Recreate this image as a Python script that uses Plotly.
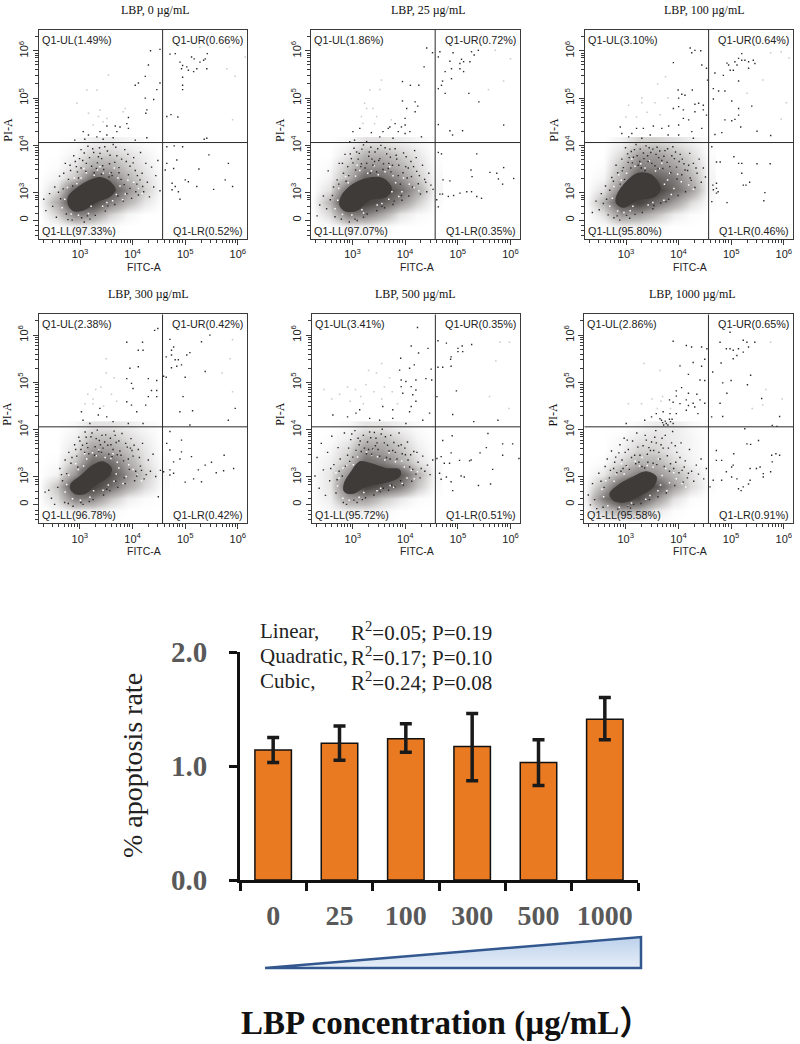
import plotly.graph_objects as go

W = 800
H = 1044

# bar chart
doses = ['0', '25', '100', '300', '500', '1000']
apoptosis = [1.14, 1.20, 1.24, 1.17, 1.03, 1.41]
err_up = [0.11, 0.15, 0.13, 0.29, 0.20, 0.19]
err_down = [0.11, 0.15, 0.12, 0.30, 0.20, 0.18]

# flow panels
panel_titles = ['LBP, 0 µg/mL', 'LBP, 25 µg/mL', 'LBP, 100 µg/mL',
                'LBP, 300 µg/mL', 'LBP, 500 µg/mL', 'LBP, 1000 µg/mL']
ul_pct = ['1.49', '1.86', '3.10', '2.38', '3.41', '2.86']
ur_pct = ['0.66', '0.72', '0.64', '0.42', '0.35', '0.65']
ll_pct = ['97.33', '97.07', '95.80', '96.78', '95.72', '95.58']
lr_pct = ['0.52', '0.35', '0.46', '0.42', '0.51', '0.91']

# dense cell cloud, read as outline (log10 FITC, log10 PI)
core_1 = [(2.78, 2.92), (2.90, 3.06), (3.13, 3.23), (3.38, 3.32), (3.57, 3.23), (3.67, 3.06), (3.57, 2.92), (3.32, 2.81), (3.06, 2.63), (2.87, 2.62), (2.78, 2.74)]
core_2 = [(2.79, 2.92), (2.95, 3.13), (3.27, 3.30), (3.58, 3.30), (3.74, 3.09), (3.65, 2.92), (3.33, 2.85), (3.08, 2.62), (2.85, 2.62), (2.76, 2.74)]
core_3 = [(2.82, 2.92), (2.98, 3.20), (3.23, 3.41), (3.49, 3.37), (3.65, 3.09), (3.55, 2.92), (3.23, 2.85), (2.95, 2.69), (2.82, 2.77)]
core_4 = [(2.84, 2.87), (3.00, 3.01), (3.25, 3.25), (3.44, 3.32), (3.60, 3.18), (3.54, 3.01), (3.29, 2.83), (3.10, 2.65), (2.90, 2.65), (2.82, 2.76)]
core_5 = [(2.84, 2.87), (2.97, 3.11), (3.13, 3.32), (3.32, 3.29), (3.63, 3.18), (3.89, 3.15), (3.89, 3.01), (3.57, 2.87), (3.25, 2.80), (3.00, 2.65), (2.84, 2.69)]
core_6 = [(2.70, 2.65), (2.85, 2.82), (3.14, 3.00), (3.39, 3.11), (3.58, 3.00), (3.52, 2.79), (3.27, 2.61), (2.98, 2.47), (2.76, 2.51)]

# how crowded the lower-left gate looks, 0 (empty) to 10 (solid), bottom row first
density_x = [2.25, 2.58, 2.91, 3.24, 3.57, 3.90, 4.23, 4.55]
density_y = [2.05, 2.30, 2.55, 2.80, 3.05, 3.30, 3.55, 3.80, 4.05]
density_1 = [[0, 0, 0, 0, 0, 0, 0, 0],
             [0, 0.1, 0.5, 0.4, 0.1, 0, 0, 0],
             [0, 1.5, 5, 4, 1.5, 0.3, 0, 0],
             [0.2, 3, 9, 9, 5, 2.5, 0.8, 0],
             [0.1, 1.2, 7, 10, 8, 4, 1.5, 0.1],
             [0, 0.4, 2, 6, 5, 2.5, 1, 0.1],
             [0, 0.1, 1, 3, 3, 1.6, 0.7, 0],
             [0, 0, 0.4, 1.6, 1.6, 1, 0.4, 0],
             [0, 0, 0.1, 0.5, 0.6, 0.3, 0.1, 0]]
density_2 = [[0, 0, 0, 0, 0, 0, 0, 0],
             [0, 0.1, 0.5, 0.5, 0.2, 0, 0, 0],
             [0, 1.2, 5, 5, 3, 0.8, 0.2, 0],
             [0.1, 2.5, 9, 9, 7, 4, 1.6, 0.1],
             [0, 1, 6, 10, 9, 6, 3, 0.3],
             [0, 0.4, 2.5, 6.5, 6, 4, 1.8, 0.2],
             [0, 0.2, 1.8, 4, 4, 2.6, 1.2, 0.1],
             [0, 0, 0.8, 2.6, 2.6, 1.6, 0.8, 0],
             [0, 0, 0.2, 0.9, 0.9, 0.6, 0.3, 0]]
density_3 = [[0, 0, 0, 0, 0, 0, 0, 0],
             [0, 0.1, 0.5, 0.5, 0.2, 0, 0, 0],
             [0, 1, 4, 3.5, 2, 0.6, 0.1, 0],
             [0.1, 2.5, 8, 9, 6, 3.5, 1.2, 0.1],
             [0, 1, 5, 10, 9, 6, 3.5, 0.3],
             [0, 0.3, 3, 7, 7, 5, 2.6, 0.3],
             [0, 0.1, 2.2, 5, 4.5, 3.5, 1.8, 0.2],
             [0, 0, 1.2, 3.5, 3.6, 2.2, 1.2, 0.1],
             [0, 0, 0.4, 1.4, 1.4, 1, 0.5, 0]]
density_4 = [[0, 0, 0, 0, 0, 0, 0, 0],
             [0, 0.2, 0.6, 0.5, 0.2, 0, 0, 0],
             [0.1, 1.2, 5, 4.5, 2, 0.5, 0.1, 0],
             [0.1, 2, 8, 9, 6, 3, 1.2, 0.1],
             [0, 0.4, 4, 10, 8, 4, 1.6, 0.2],
             [0, 0.1, 2, 6, 6, 3, 1, 0.1],
             [0, 0, 1, 4, 3.5, 2, 0.8, 0],
             [0, 0, 0.5, 2.2, 2.2, 1.2, 0.5, 0],
             [0, 0, 0.2, 0.9, 0.9, 0.6, 0.2, 0]]
density_5 = [[0, 0, 0, 0, 0, 0, 0, 0],
             [0, 0.2, 0.6, 0.6, 0.3, 0, 0, 0],
             [0.1, 0.6, 3.5, 3.5, 1.8, 0.7, 0.1, 0],
             [0.1, 0.8, 6, 9, 7, 5, 1.8, 0.1],
             [0.1, 0.8, 4, 10, 9, 7, 2.6, 0.2],
             [0.1, 0.5, 2, 6, 5, 3, 1, 0.1],
             [0, 0.3, 1.3, 4, 3.5, 2, 0.6, 0],
             [0, 0.1, 0.6, 2.2, 2.2, 1.2, 0.3, 0],
             [0, 0, 0.2, 0.8, 0.8, 0.4, 0.1, 0]]
density_6 = [[0, 0, 0, 0, 0, 0, 0, 0],
             [0.2, 1.6, 3, 2.5, 0.8, 0.1, 0, 0],
             [0.4, 5, 9, 8, 4, 1, 0.1, 0],
             [0.2, 2.5, 7, 10, 7.5, 3.5, 1.2, 0.1],
             [0, 0.7, 3, 5, 4, 2.5, 1, 0.1],
             [0, 0.1, 1.3, 2.5, 2.5, 1.2, 0.4, 0],
             [0, 0, 0.4, 1.5, 1.5, 0.7, 0.3, 0],
             [0, 0, 0.2, 0.8, 1, 0.6, 0.3, 0],
             [0, 0, 0, 0.2, 0.6, 0.6, 0.2, 0]]

# gaps of paper showing through the crowded part of the cloud
gaps_1 = [(3.02, 3.31), (3.44, 3.41), (2.71, 2.86), (3.76, 3.14), (3.21, 2.71), (3.62, 2.83), (2.94, 3.19), (3.86, 2.97), (3.33, 3.48), (2.83, 2.55), (3.57, 3.41), (4.02, 3.22), (3.12, 3.42), (3.72, 3.31), (2.66, 2.68), (3.43, 2.71), (3.91, 3.26), (3.27, 3.37), (2.89, 3.31), (3.65, 3.52), (3.16, 2.56), (4.11, 3.09), (3.51, 2.79), (2.76, 3.11), (3.81, 2.85), (3.38, 3.55), (2.97, 2.52), (3.69, 2.96), (4.18, 2.98), (3.07, 3.51)]
gaps_2 = [(3.06, 3.35), (3.49, 3.38), (2.72, 2.84), (3.82, 3.21), (3.18, 2.64), (3.69, 2.86), (2.92, 3.21), (3.94, 3.02), (3.36, 3.46), (2.81, 2.54), (3.62, 3.44), (4.08, 3.18), (3.14, 3.47), (3.77, 3.36), (2.67, 2.66), (3.47, 2.74), (3.97, 3.31), (3.29, 3.41), (2.87, 3.34), (3.71, 3.55), (3.21, 2.57), (4.17, 3.11), (3.56, 2.77), (2.74, 3.09), (3.88, 2.92), (3.41, 3.57), (2.99, 2.53), (3.75, 3.02), (4.26, 3.04), (3.09, 3.58)]
gaps_3 = [(3.01, 3.41), (3.56, 3.46), (2.74, 2.88), (3.79, 3.27), (3.13, 2.71), (3.72, 2.84), (2.91, 3.26), (3.91, 3.09), (3.36, 3.52), (2.84, 2.61), (3.63, 3.51), (4.05, 3.23), (3.17, 3.56), (3.83, 3.41), (2.69, 2.71), (3.42, 2.74), (3.98, 3.39), (3.28, 3.61), (2.86, 3.38), (3.68, 3.62), (3.08, 2.62), (4.19, 3.16), (3.51, 2.79), (2.77, 3.13), (3.86, 2.96), (3.44, 3.67), (2.96, 2.58), (3.73, 3.18), (4.28, 3.07), (3.11, 3.71)]
gaps_4 = [(3.07, 3.23), (3.48, 3.41), (2.75, 2.84), (3.74, 3.19), (3.26, 2.71), (3.65, 2.91), (2.97, 3.16), (3.88, 3.01), (3.31, 3.45), (2.86, 2.54), (3.59, 3.39), (4.01, 3.16), (3.13, 3.38), (3.71, 3.31), (2.72, 2.68), (3.44, 2.72), (3.93, 3.26), (3.24, 3.51), (2.92, 3.28), (3.63, 3.49), (3.19, 2.57), (4.09, 3.04), (3.54, 2.83), (2.79, 3.04), (3.82, 2.86), (3.36, 3.57), (3.01, 2.51), (3.69, 3.06), (4.17, 2.92), (3.09, 3.49)]
gaps_5 = [(3.01, 3.26), (3.47, 3.43), (2.71, 2.81), (3.98, 3.21), (3.21, 2.67), (3.71, 2.82), (2.88, 3.24), (4.03, 2.98), (3.36, 3.47), (2.81, 2.55), (3.61, 3.36), (4.11, 3.14), (3.09, 3.42), (3.81, 3.32), (2.68, 3.09), (3.46, 2.71), (3.93, 3.34), (3.26, 3.53), (2.81, 3.19), (3.69, 3.51), (3.12, 2.57), (4.17, 2.96), (3.53, 2.76), (2.74, 2.98), (3.94, 2.86), (3.39, 3.58), (2.93, 2.51), (3.78, 2.78), (4.23, 3.11), (3.06, 3.55)]
gaps_6 = [(2.97, 3.06), (3.41, 3.24), (2.58, 2.58), (3.69, 3.03), (3.11, 2.45), (3.61, 2.71), (2.78, 2.91), (3.83, 2.88), (3.26, 3.23), (2.66, 2.39), (3.52, 3.21), (3.96, 2.96), (3.02, 3.22), (3.76, 3.18), (2.55, 2.74), (3.38, 2.53), (3.91, 3.09), (3.18, 3.33), (2.82, 3.06), (3.62, 3.38), (3.04, 2.39), (4.07, 2.86), (3.46, 2.61), (2.62, 2.92), (3.78, 2.71), (3.31, 3.41), (2.88, 2.36), (3.66, 2.83), (4.14, 2.79), (2.92, 3.28)]

# single cells (log10 FITC, log10 PI)
dots_1 = [(4.71, 5.93), (4.81, 5.94), (4.90, 5.76), (4.95, 5.69), (4.93, 5.62), (5.03, 5.66), (5.12, 5.87), (5.17, 5.83), (5.22, 5.62), (5.28, 5.76), (5.35, 5.80), (5.38, 5.83), (5.42, 5.94), (5.41, 5.62), (5.16, 5.56), (5.06, 5.59), (4.95, 5.44), (4.95, 5.27), (4.95, 5.18), (4.65, 4.61), (4.73, 4.65), (4.86, 4.60), (5.41, 4.15), (5.36, 4.13),
          (4.65, 3.97), (4.79, 3.99), (4.95, 3.97), (4.65, 3.62), (4.78, 3.51), (4.84, 3.69), (4.62, 3.48), (4.75, 3.20), (4.81, 3.13), (4.75, 3.06), (4.87, 3.02), (4.90, 2.86), (5.00, 3.27), (5.06, 3.23), (5.22, 3.13), (5.26, 3.50), (5.45, 3.80), (5.54, 3.07), (5.76, 3.27), (5.90, 3.13), (5.82, 3.62),
          (4.34, 6.00), (4.52, 6.03), (4.30, 5.70), (4.24, 5.46), (4.11, 5.32), (4.05, 5.27), (4.52, 5.32), (4.46, 5.18), (4.24, 5.00), (4.40, 4.97), (4.27, 4.75), (4.25, 4.68), (3.92, 4.59), (3.89, 4.46), (3.67, 4.41), (3.76, 4.39), (3.51, 4.41), (3.38, 4.29), (3.06, 4.29), (3.16, 4.22), (3.32, 4.18), (3.51, 4.22), (3.70, 4.29), (2.90, 4.11), (3.09, 4.13), (3.44, 4.13), (3.63, 4.16), (3.92, 4.36), (4.05, 4.11), (4.27, 4.16),
          (2.31, 2.86), (2.35, 2.62), (2.42, 2.98), (2.48, 2.71), (2.52, 3.12), (2.55, 2.48), (2.61, 3.35), (2.63, 2.87), (2.68, 3.08), (2.72, 3.62), (2.74, 2.55), (2.78, 3.28), (2.82, 3.47), (2.85, 2.42), (2.88, 3.78), (2.93, 3.55), (2.97, 3.31), (3.02, 3.91), (3.05, 3.68), (3.08, 2.38), (3.11, 3.45), (3.15, 3.98), (3.18, 3.74), (3.22, 3.56), (3.26, 3.85), (3.29, 2.52), (3.33, 3.63), (3.37, 3.95), (3.41, 3.72), (3.45, 3.49), (3.48, 2.61), (3.52, 3.88), (3.56, 3.61), (3.59, 3.42), (3.63, 4.02), (3.66, 2.75), (3.70, 3.78), (3.74, 3.53), (3.78, 3.28), (3.82, 2.82), (3.85, 3.91), (3.88, 3.66), (3.92, 3.38), (3.95, 3.09), (3.98, 2.88), (4.02, 3.74), (4.05, 3.47), (4.08, 3.18), (4.11, 2.95), (4.15, 3.85), (4.18, 3.41), (4.21, 3.02), (4.25, 3.62), (4.28, 3.22), (4.32, 2.91), (4.36, 3.54), (4.40, 3.12), (4.44, 3.36), (4.48, 3.68), (4.52, 3.04),
          (3.12, 3.62), (3.41, 3.39), (2.95, 3.44), (3.66, 3.64), (3.24, 3.93), (3.84, 3.17), (3.03, 2.47), (3.57, 3.79), (2.86, 3.14), (3.31, 3.51), (3.95, 3.56), (2.69, 3.41), (3.47, 3.97), (4.06, 3.02), (3.19, 2.44), (3.72, 2.93), (2.59, 3.01), (3.38, 3.83), (3.91, 3.81), (2.99, 3.72), (3.61, 3.36), (4.14, 3.27), (3.08, 3.84), (3.53, 2.72), (2.77, 2.43), (4.01, 3.63), (3.27, 3.42), (3.79, 3.71), (2.91, 3.66), (3.43, 3.57), (4.19, 3.13), (3.14, 2.51), (3.68, 3.96), (3.89, 2.98), (2.81, 3.58), (3.35, 3.76), (3.74, 3.42), (4.09, 3.36), (3.02, 3.52), (3.55, 3.33)]
faint_1 = [(3.13, 5.17), (3.32, 5.17), (3.38, 4.75), (3.82, 4.71), (3.51, 4.57), (3.16, 4.68), (2.94, 4.89), (3.54, 5.49), (3.35, 4.61), (3.86, 4.78), (3.44, 4.50), (3.25, 4.43), (5.79, 5.62), (5.95, 5.46), (6.14, 5.87), (5.90, 4.54), (5.28, 6.07), (5.84, 6.08)]

dots_2 = [(4.66, 5.98), (4.63, 5.87), (4.91, 5.96), (4.85, 5.78), (5.04, 5.73), (5.07, 5.82), (5.11, 5.77), (5.04, 5.62), (5.11, 5.56), (5.26, 5.98), (5.31, 5.91), (5.39, 6.01), (5.23, 5.77), (4.88, 5.62), (4.76, 5.56), (4.71, 5.36), (4.88, 5.41), (4.69, 5.27), (4.63, 5.20), (4.76, 5.10), (5.21, 5.10), (5.40, 4.92), (4.63, 4.44), (4.85, 4.31), (4.90, 4.22), (5.09, 4.31), (5.87, 4.43),
          (4.63, 3.85), (4.69, 3.82), (5.36, 3.82), (5.25, 3.48), (5.27, 3.34), (5.61, 3.43), (5.74, 3.41), (5.87, 3.53), (6.06, 3.30), (5.85, 3.18), (5.77, 3.29), (4.72, 3.27), (4.85, 3.25), (4.66, 2.97), (4.71, 2.97), (4.82, 2.92), (4.92, 2.94), (5.04, 2.99), (5.17, 3.02), (5.26, 3.02), (5.36, 2.92), (5.45, 2.88), (4.63, 2.70), (4.60, 2.85),
          (4.41, 6.06), (4.52, 5.96), (4.36, 5.66), (3.95, 5.35), (4.10, 5.27), (4.26, 5.27), (3.95, 4.94), (4.19, 4.92), (4.24, 4.83), (4.03, 4.78), (4.19, 4.71), (4.00, 4.57), (3.93, 4.39), (4.00, 4.43), (4.09, 4.29), (3.68, 4.36), (3.81, 4.46), (3.01, 4.29), (3.14, 4.36), (3.36, 4.27), (3.58, 4.29), (3.71, 4.39), (3.87, 4.29), (4.00, 4.25), (3.04, 4.11), (2.95, 4.08), (3.27, 4.08), (3.52, 4.18), (3.77, 4.15), (4.31, 4.18),
          (2.33, 2.51), (2.38, 2.74), (2.45, 2.93), (2.51, 2.66), (2.54, 3.46), (2.58, 2.85), (2.64, 3.12), (2.67, 2.49), (2.71, 3.27), (2.75, 3.62), (2.79, 2.44), (2.83, 3.41), (2.86, 3.81), (2.91, 3.55), (2.94, 2.38), (2.98, 3.72), (3.03, 3.94), (3.06, 3.48), (3.09, 2.41), (3.13, 3.83), (3.17, 3.61), (3.21, 4.01), (3.24, 3.52), (3.28, 2.55), (3.31, 3.77), (3.35, 3.96), (3.39, 3.58), (3.43, 3.86), (3.46, 2.62), (3.50, 3.68), (3.54, 4.00), (3.58, 3.49), (3.61, 2.68), (3.65, 3.82), (3.69, 3.62), (3.73, 3.44), (3.77, 2.75), (3.81, 3.93), (3.84, 3.71), (3.87, 3.36), (3.91, 3.18), (3.94, 2.84), (3.97, 3.84), (4.01, 3.55), (4.04, 3.31), (4.07, 2.93), (4.11, 3.66), (4.14, 3.12), (4.18, 3.89), (4.22, 3.45), (4.25, 3.19), (4.29, 2.97), (4.33, 3.58), (4.37, 3.28), (4.41, 3.02), (4.45, 3.41), (4.49, 3.16), (4.53, 3.07),
          (3.18, 3.92), (3.46, 3.44), (2.93, 3.36), (3.72, 3.75), (3.27, 3.62), (3.88, 3.58), (3.05, 2.44), (3.62, 3.95), (2.88, 3.24), (3.34, 3.41), (4.02, 3.76), (2.74, 3.18), (3.52, 3.72), (4.12, 3.34), (3.21, 2.48), (3.79, 2.82), (2.62, 2.94), (3.42, 3.66), (3.96, 3.42), (3.01, 3.63), (3.68, 3.51), (4.21, 3.74), (3.11, 3.71), (3.56, 2.71), (2.81, 3.62), (4.06, 3.52), (3.32, 3.86), (3.83, 3.79), (2.96, 3.82), (3.48, 3.93), (4.27, 3.36), (3.16, 3.55), (3.71, 3.92), (3.93, 2.94), (4.39, 3.22), (3.37, 3.71), (3.76, 3.58), (4.16, 3.55), (3.08, 3.86), (3.59, 3.61)]
faint_2 = [(3.33, 5.17), (3.52, 5.18), (3.23, 4.89), (3.27, 4.78), (3.39, 4.78), (3.46, 4.61), (3.20, 4.46), (3.17, 4.61), (3.42, 4.46), (3.55, 5.38), (3.74, 4.54), (5.71, 6.01), (6.00, 5.83), (5.87, 5.36), (5.58, 5.18)]

dots_3 = [(4.92, 5.74), (4.95, 5.70), (4.98, 5.59), (5.07, 5.77), (5.11, 5.70), (5.14, 5.84), (5.20, 5.94), (5.20, 5.80), (5.26, 5.80), (5.33, 5.77), (5.42, 5.80), (5.45, 5.73), (5.33, 5.63), (5.04, 5.59), (4.69, 5.53), (4.85, 5.48), (5.14, 5.36), (4.66, 5.20), (4.76, 5.15), (4.88, 5.15), (4.66, 4.98), (5.01, 4.94), (5.14, 4.78), (5.39, 4.83), (5.14, 4.64), (4.88, 4.54), (5.01, 4.52), (5.07, 4.55), (5.18, 4.39), (4.82, 4.27), (4.69, 4.23), (5.49, 4.30), (5.75, 4.21),
          (4.63, 3.97), (4.72, 3.65), (4.79, 3.65), (5.05, 3.76), (5.14, 3.62), (5.20, 3.62), (5.20, 3.41), (5.35, 3.22), (5.49, 3.61), (5.74, 3.61), (5.23, 3.16), (5.28, 3.16), (4.65, 3.16), (4.72, 3.20), (4.72, 3.09), (4.66, 3.06), (4.75, 3.02), (4.72, 2.99), (4.63, 2.81), (4.92, 2.79), (5.64, 3.00), (5.62, 2.83),
          (4.22, 6.06), (4.25, 5.96), (4.31, 6.01), (4.42, 6.00), (3.90, 5.75), (4.44, 5.70), (4.53, 5.63), (4.55, 5.38), (3.99, 5.17), (4.06, 5.08), (4.00, 5.00), (4.12, 5.06), (4.26, 5.17), (4.00, 4.82), (3.90, 4.78), (4.09, 4.75), (4.31, 4.87), (4.38, 4.89), (4.47, 4.85), (4.47, 4.75), (4.31, 4.71), (4.09, 4.57), (4.19, 4.54), (4.00, 4.43), (3.81, 4.41), (3.68, 4.36), (3.52, 4.41), (3.33, 4.36), (3.20, 4.36), (3.11, 4.25), (2.89, 4.39), (2.92, 4.25), (3.05, 4.18), (3.30, 4.15), (3.46, 4.22), (3.80, 4.22), (4.00, 4.22), (4.25, 4.29), (4.44, 4.36), (4.28, 4.15), (4.53, 4.64),
          (2.36, 2.58), (2.43, 2.82), (2.49, 2.64), (2.53, 2.98), (2.57, 2.77), (2.61, 3.14), (2.66, 2.53), (2.69, 3.05), (2.73, 3.32), (2.77, 2.47), (2.81, 3.58), (2.84, 3.42), (2.88, 2.42), (2.92, 3.71), (2.95, 3.53), (2.99, 3.95), (3.04, 3.64), (3.07, 2.46), (3.10, 3.87), (3.14, 3.75), (3.19, 4.02), (3.23, 3.58), (3.27, 3.92), (3.31, 2.58), (3.34, 3.72), (3.38, 3.99), (3.42, 3.66), (3.47, 3.85), (3.51, 2.66), (3.55, 3.57), (3.59, 3.96), (3.62, 3.74), (3.66, 2.78), (3.70, 3.51), (3.74, 3.89), (3.78, 3.64), (3.81, 2.86), (3.85, 3.42), (3.89, 3.97), (3.92, 3.72), (3.96, 3.54), (3.99, 2.94), (4.03, 3.81), (4.06, 3.38), (4.10, 3.61), (4.13, 3.02), (4.17, 3.47), (4.21, 3.83), (4.24, 3.26), (4.28, 3.62), (4.31, 3.11), (4.35, 3.41), (4.39, 3.71), (4.43, 3.22), (4.47, 3.52), (4.51, 3.33),
          (3.09, 3.52), (3.36, 3.47), (2.97, 3.28), (3.64, 3.88), (3.21, 3.78), (3.83, 3.55), (3.01, 2.52), (3.49, 3.62), (2.89, 3.18), (3.26, 3.66), (3.94, 3.86), (2.76, 3.24), (3.57, 3.81), (4.07, 3.71), (3.17, 2.54), (3.76, 2.81), (2.63, 2.86), (3.44, 3.95), (3.87, 3.78), (3.03, 3.82), (3.68, 3.68), (4.19, 3.58), (3.12, 3.63), (3.53, 2.73), (2.83, 2.51), (4.01, 3.66), (3.29, 3.52), (3.79, 3.93), (2.93, 3.46), (3.41, 3.78), (4.22, 3.31), (3.16, 3.91), (3.72, 3.77), (3.97, 3.29), (4.33, 3.52), (3.33, 3.84), (3.61, 3.51), (4.12, 3.48), (3.06, 3.74), (3.51, 3.92)]
faint_3 = [(3.60, 5.30), (3.30, 5.00), (3.30, 4.90), (3.55, 4.90), (3.20, 4.60), (3.00, 4.60), (3.40, 4.70), (3.80, 5.00), (3.65, 4.65), (3.75, 5.45), (3.05, 4.85), (5.75, 5.96), (5.95, 5.98), (6.10, 5.85), (5.60, 5.38), (5.30, 5.10), (5.95, 4.55), (6.05, 4.90)]

dots_4 = [(4.71, 5.91), (4.78, 5.75), (4.74, 5.68), (4.64, 5.54), (4.74, 5.58), (4.81, 5.48), (4.87, 5.48), (5.03, 5.58), (5.09, 5.63), (4.74, 5.31), (4.84, 5.34), (4.93, 5.37), (5.31, 5.86), (5.47, 6.00), (5.38, 5.23), (4.59, 5.13), (4.64, 5.11), (5.00, 5.11), (4.96, 4.70), (4.90, 4.38), (5.14, 4.40), (5.95, 4.45), (5.82, 4.20), (5.09, 4.10),
          (4.71, 3.96), (4.65, 3.71), (4.71, 3.57), (4.78, 3.32), (4.90, 3.38), (4.93, 3.53), (4.93, 3.78), (4.71, 3.15), (4.78, 3.08), (4.71, 3.04), (4.59, 3.11), (5.00, 2.89), (5.16, 2.96), (5.31, 2.90), (5.25, 3.15), (5.38, 3.25), (5.50, 3.31), (5.59, 3.09), (5.73, 3.13), (5.74, 3.46), (5.92, 3.18), (5.12, 3.43),
          (3.89, 5.85), (4.19, 5.85), (4.11, 5.68), (4.20, 5.68), (4.42, 6.10), (4.48, 6.14), (4.11, 5.33), (3.95, 5.30), (3.89, 5.08), (3.98, 4.98), (4.01, 4.87), (4.30, 5.08), (4.46, 5.04), (4.36, 4.83), (4.46, 4.83), (4.30, 4.70), (4.46, 4.70), (3.89, 4.59), (3.98, 4.52), (4.08, 4.38), (4.25, 4.52), (3.38, 4.45), (3.35, 4.31), (3.51, 4.27), (3.03, 4.38), (3.06, 4.20), (3.19, 4.13), (3.63, 4.17), (3.92, 4.13), (4.20, 4.13),
          (2.34, 2.68), (2.41, 2.72), (2.46, 2.55), (2.52, 2.42), (2.58, 2.78), (2.62, 3.18), (2.67, 2.92), (2.71, 2.46), (2.75, 3.07), (2.79, 3.52), (2.83, 3.29), (2.87, 2.38), (2.90, 3.68), (2.94, 3.44), (2.98, 3.84), (3.02, 3.58), (3.06, 2.42), (3.10, 3.95), (3.13, 3.71), (3.17, 3.49), (3.21, 3.85), (3.25, 2.52), (3.29, 3.64), (3.33, 3.99), (3.37, 3.77), (3.41, 3.52), (3.45, 2.62), (3.49, 3.89), (3.53, 3.67), (3.57, 2.71), (3.61, 3.43), (3.65, 3.97), (3.69, 3.73), (3.72, 2.78), (3.76, 3.55), (3.80, 3.92), (3.83, 3.34), (3.86, 2.86), (3.90, 3.63), (3.94, 3.16), (3.97, 3.81), (4.01, 3.44), (4.04, 2.92), (4.08, 3.02), (4.11, 3.58), (4.15, 3.23), (4.19, 3.71), (4.22, 2.96), (4.26, 3.05), (4.30, 3.36), (4.34, 3.12), (4.39, 3.48), (4.44, 3.01), (4.49, 2.58), (4.53, 3.14),
          (3.15, 3.62), (3.39, 3.68), (2.96, 3.21), (3.58, 3.82), (3.23, 3.93), (3.78, 3.46), (3.02, 2.46), (3.47, 3.74), (2.85, 3.41), (3.28, 3.46), (3.87, 3.71), (2.72, 3.36), (3.55, 3.48), (4.03, 3.67), (3.18, 2.48), (3.68, 2.91), (2.65, 3.05), (3.42, 3.88), (3.92, 3.38), (3.00, 3.76), (3.63, 3.58), (4.13, 3.41), (3.09, 3.52), (3.51, 2.74), (2.78, 2.44), (3.99, 3.56), (3.31, 3.81), (3.74, 3.76), (2.92, 3.58), (3.44, 3.61), (4.17, 3.14), (3.12, 3.84), (3.67, 3.88), (3.84, 2.98), (4.06, 3.12), (3.36, 3.54), (3.71, 3.47), (3.96, 3.61), (3.05, 3.67), (3.59, 3.68)]
faint_4 = [(3.50, 5.20), (3.65, 5.10), (3.30, 4.85), (3.15, 4.75), (3.25, 4.65), (3.40, 4.90), (3.60, 4.75), (3.70, 4.60), (3.10, 4.55), (3.50, 5.50), (3.25, 4.55), (3.45, 4.50), (5.90, 5.90), (5.85, 5.50), (5.70, 5.20), (5.90, 4.80)]

dots_5 = [(4.62, 5.88), (4.78, 5.83), (5.08, 5.77), (5.26, 5.80), (5.00, 5.72), (5.09, 5.65), (5.00, 5.65), (4.87, 5.54), (4.86, 5.49), (4.62, 5.32), (4.71, 5.32), (4.87, 5.34), (4.97, 4.82), (4.60, 4.70), (4.90, 4.32), (5.76, 4.20), (5.30, 4.17),
          (4.71, 3.77), (4.89, 3.87), (4.60, 3.39), (4.68, 3.43), (4.87, 3.51), (4.74, 3.29), (4.84, 3.29), (5.03, 3.35), (5.22, 3.34), (5.42, 3.51), (5.57, 3.92), (5.54, 3.62), (5.85, 3.70), (6.04, 3.70), (5.85, 3.46), (5.66, 3.16), (5.25, 3.36), (4.65, 3.08), (4.68, 2.95), (4.78, 3.00), (4.87, 2.90), (4.90, 2.71), (5.06, 3.02), (5.12, 3.00), (5.39, 2.82), (5.62, 2.85), (6.16, 3.39),
          (4.23, 6.16), (4.11, 5.77), (4.43, 5.72), (3.91, 5.51), (4.25, 5.62), (3.89, 5.26), (4.08, 5.30), (4.17, 5.37), (4.49, 5.28), (4.39, 5.08), (4.50, 5.05), (3.92, 5.05), (4.01, 5.02), (4.20, 5.05), (3.92, 4.91), (4.11, 4.91), (4.20, 4.84), (3.95, 4.77), (4.14, 4.74), (4.20, 4.60), (4.11, 4.49), (4.08, 4.38), (4.46, 4.35), (3.76, 4.42), (3.57, 4.49), (3.13, 4.42), (3.06, 4.35), (2.90, 4.27), (2.62, 4.31), (3.32, 4.24), (3.51, 4.20), (3.76, 4.24), (4.01, 4.13), (4.33, 4.20),
          (2.28, 3.02), (2.32, 3.41), (2.36, 2.76), (2.40, 3.71), (2.44, 3.15), (2.48, 2.61), (2.52, 3.52), (2.56, 2.92), (2.60, 3.86), (2.64, 3.26), (2.68, 2.66), (2.72, 3.62), (2.76, 3.38), (2.80, 3.02), (2.84, 3.93), (2.88, 2.42), (2.92, 3.61), (2.96, 3.79), (3.00, 3.42), (3.04, 3.98), (3.08, 2.46), (3.12, 3.68), (3.16, 3.54), (3.20, 3.88), (3.24, 2.56), (3.28, 3.74), (3.32, 3.95), (3.36, 3.48), (3.40, 2.62), (3.44, 3.82), (3.48, 3.58), (3.52, 2.69), (3.56, 4.01), (3.60, 3.72), (3.64, 3.41), (3.68, 2.72), (3.72, 3.88), (3.76, 3.56), (3.80, 2.79), (3.84, 3.38), (3.88, 3.93), (3.92, 3.68), (3.96, 2.83), (4.00, 3.47), (4.04, 3.74), (4.08, 3.21), (4.12, 2.91), (4.16, 3.54), (4.20, 3.06), (4.24, 3.31), (4.28, 2.98), (4.33, 3.44), (4.37, 3.12), (4.42, 3.25), (4.47, 3.05), (4.52, 3.36),
          (3.14, 3.76), (3.38, 3.59), (2.94, 3.33), (3.62, 3.85), (3.22, 3.61), (3.81, 3.52), (3.02, 2.51), (3.46, 3.72), (2.86, 3.23), (3.26, 3.49), (3.94, 3.49), (2.74, 3.12), (3.54, 3.91), (4.05, 3.36), (3.18, 2.52), (3.74, 2.83), (2.58, 3.18), (3.41, 3.94), (3.87, 3.66), (2.98, 3.91), (3.66, 3.67), (4.14, 3.16), (3.06, 3.56), (3.58, 2.76), (2.82, 2.46), (3.99, 3.61), (3.30, 3.58), (3.78, 3.73), (2.90, 3.46), (3.43, 3.66), (4.22, 3.52), (3.10, 3.82), (3.69, 3.55), (3.91, 2.92), (4.30, 3.18), (3.34, 3.83), (3.71, 3.38), (4.10, 3.47), (2.70, 2.94), (3.51, 3.44)]
faint_5 = [(3.30, 5.25), (3.45, 5.20), (3.55, 5.40), (3.70, 5.10), (3.25, 4.95), (3.05, 4.85), (2.90, 4.90), (2.45, 4.85), (2.60, 4.65), (2.75, 4.75), (3.15, 4.70), (3.40, 4.80), (3.55, 4.65), (3.75, 4.80), (3.20, 4.55), (3.60, 4.90), (2.95, 4.60), (3.85, 4.55), (5.98, 5.85), (5.80, 5.85), (5.72, 5.45), (5.60, 4.70), (5.97, 4.45)]

dots_6 = [(4.79, 5.85), (4.98, 6.06), (4.98, 5.71), (4.91, 5.71), (5.04, 5.68), (5.14, 5.71), (5.23, 5.89), (5.30, 5.85), (5.33, 5.75), (5.23, 5.64), (5.11, 5.57), (5.04, 5.50), (5.45, 5.85), (4.81, 5.41), (4.65, 5.22), (4.84, 4.99), (5.00, 5.04), (5.31, 4.95), (5.37, 5.15), (4.92, 4.77), (4.79, 4.56), (5.58, 4.66), (4.63, 4.27), (4.84, 4.28), (5.92, 4.28), (5.78, 4.09), (5.87, 4.07),
          (5.26, 4.02), (5.30, 3.70), (5.37, 3.69), (5.52, 3.77), (5.05, 3.49), (5.01, 3.21), (4.72, 3.56), (4.82, 3.35), (4.72, 3.35), (4.66, 2.93), (4.82, 2.93), (4.91, 3.11), (5.01, 3.00), (5.04, 3.25), (5.11, 2.96), (5.14, 2.75), (5.23, 2.79), (5.33, 2.85), (5.36, 3.18), (5.48, 3.18), (5.55, 3.21), (5.61, 3.00), (5.77, 3.46), (5.85, 3.49), (5.92, 3.46), (5.78, 3.32), (5.75, 3.11), (5.61, 3.07), (5.36, 2.93), (4.60, 2.79), (5.19, 2.71),
          (3.90, 5.87), (4.15, 5.78), (4.25, 5.75), (4.44, 5.75), (4.54, 5.71), (4.28, 5.42), (4.44, 5.34), (4.50, 5.49), (4.03, 5.35), (4.19, 5.17), (4.41, 5.05), (4.50, 5.04), (4.06, 4.89), (3.96, 4.82), (4.19, 4.77), (4.35, 4.75), (3.96, 4.71), (3.83, 4.63), (4.15, 4.63), (4.28, 4.56), (4.41, 4.63), (4.50, 4.56), (3.90, 4.58), (4.03, 4.55), (4.19, 4.51), (4.31, 4.48), (3.58, 4.34), (3.71, 4.38), (3.84, 4.34), (3.96, 4.34), (3.49, 4.27), (3.65, 4.23), (3.77, 4.13), (3.90, 4.13), (3.36, 4.20), (3.01, 4.13), (4.15, 4.41), (4.37, 4.34),
          (3.70, 4.15), (3.75, 4.18), (3.80, 4.10), (3.85, 4.17), (3.72, 4.10), (3.83, 4.22), (3.68, 4.20), (3.88, 4.22),
          (2.29, 2.62), (2.33, 2.41), (2.37, 2.86), (2.41, 2.52), (2.45, 2.33), (2.49, 3.08), (2.53, 2.91), (2.57, 2.36), (2.61, 3.22), (2.65, 3.38), (2.69, 2.98), (2.73, 3.55), (2.77, 3.18), (2.81, 3.42), (2.85, 2.32), (2.89, 3.68), (2.93, 3.36), (2.97, 3.82), (3.01, 3.24), (3.05, 3.58), (3.09, 2.34), (3.13, 3.76), (3.17, 3.46), (3.21, 3.93), (3.25, 3.31), (3.29, 2.44), (3.33, 3.66), (3.37, 3.88), (3.41, 3.48), (3.45, 2.52), (3.49, 3.74), (3.53, 3.56), (3.57, 3.98), (3.61, 2.58), (3.65, 3.38), (3.69, 3.82), (3.73, 3.22), (3.77, 2.66), (3.81, 3.61), (3.85, 3.28), (3.89, 3.96), (3.93, 2.82), (3.97, 3.52), (4.01, 3.09), (4.05, 3.72), (4.09, 2.89), (4.13, 3.34), (4.17, 2.98), (4.21, 3.58), (4.25, 3.12), (4.29, 2.91), (4.34, 3.25), (4.38, 3.06), (4.43, 3.38), (4.48, 2.96), (4.53, 3.18),
          (3.11, 3.41), (3.36, 3.19), (2.91, 3.12), (3.58, 3.72), (3.19, 3.28), (3.79, 3.45), (3.04, 2.38), (3.44, 3.62), (2.83, 3.09), (3.23, 3.63), (3.91, 3.18), (2.71, 3.14), (3.52, 3.29), (4.03, 3.41), (3.15, 2.42), (3.71, 3.61), (2.59, 2.78), (3.39, 3.78), (3.87, 3.72), (2.99, 3.52), (3.63, 3.52), (4.11, 3.21), (3.07, 3.16), (3.55, 3.84), (2.79, 3.31), (3.95, 3.31), (3.27, 3.46), (3.75, 3.88), (2.87, 3.51), (3.42, 3.31), (4.19, 3.08), (3.03, 3.78), (3.67, 3.68), (3.83, 3.12), (3.47, 3.56), (3.31, 3.22), (3.94, 3.66), (4.07, 3.14), (2.95, 3.18), (3.59, 3.26)]
faint_6 = [(3.67, 4.60), (3.50, 4.65), (3.30, 4.55), (3.65, 5.25), (3.85, 4.45), (3.70, 4.70), (3.35, 5.40), (3.05, 4.55), (3.60, 4.45), (5.66, 4.85), (5.97, 4.65), (5.40, 4.45), (5.60, 4.52), (5.75, 5.85)]

cores = [core_1, core_2, core_3, core_4, core_5, core_6]
densities = [density_1, density_2, density_3, density_4, density_5, density_6]
gaps = [gaps_1, gaps_2, gaps_3, gaps_4, gaps_5, gaps_6]
dots = [dots_1, dots_2, dots_3, dots_4, dots_5, dots_6]
faints = [faint_1, faint_2, faint_3, faint_4, faint_5, faint_6]

# gate lines
gate_x = 4.57
gate_y = 4.06

# panel boxes in page pixels: left, right, top, bottom
panel_boxes = [(38.7, 247.3, 30, 239), (311, 520, 30, 239), (584.7, 793.3, 30, 239),
               (38.5, 247.3, 314.3, 523.3), (311.5, 520, 314.3, 523.3), (584.3, 793.3, 314.3, 523.3)]
title_x = [155, 428, 704, 148, 415, 692]

major_x = [3, 4, 5, 6]
major_y = [2.42, 3, 4, 5, 6]
major_y_text = ['0', '10<sup>3</sup>', '10<sup>4</sup>', '10<sup>5</sup>', '10<sup>6</sup>']
major_x_text = ['10<sup>3</sup>', '10<sup>4</sup>', '10<sup>5</sup>', '10<sup>6</sup>']
minor_x = [2.3, 2.48, 2.6, 2.7, 2.78, 2.85, 2.9, 2.95, 3.3, 3.48, 3.6, 3.7, 3.78, 3.85, 3.9, 3.95,
           4.3, 4.48, 4.6, 4.7, 4.78, 4.85, 4.9, 4.95, 5.3, 5.48, 5.6, 5.7, 5.78, 5.85, 5.9, 5.95]
minor_y = [2.1, 2.2, 2.3, 2.55, 2.7, 2.85, 2.9, 2.95, 3.3, 3.48, 3.6, 3.7, 3.78, 3.85, 3.9, 3.95,
           4.3, 4.48, 4.6, 4.7, 4.78, 4.85, 4.9, 4.95, 5.3, 5.48, 5.6, 5.7, 5.78, 5.85, 5.9, 5.95, 6.3]

# wedge under the bar chart, page pixels
wedge_x = [265, 641, 641, 265]
wedge_y = [968, 968, 937, 968]

SERIF = 'Liberation Serif'
SANS = 'Liberation Sans'
AX_COL = '#3a3a3a'
DOT_COL = '#2b2927'
CORE_COL = '#3f3b39'


def px_x(v):
    return v / W


def px_y(v):
    return 1 - v / H


fig = go.Figure()
layout_axes = {}
annos = []
shapes = []

for i, box in enumerate(panel_boxes):
    n = i + 1
    xa = 'x%d' % n
    ya = 'y%d' % n
    left, right, top, bottom = box

    fig.add_trace(go.Heatmap(x=density_x, y=density_y, z=densities[i], zmin=0, zmax=10, zsmooth='best',
                             colorscale=[[0, '#ffffff'], [0.05, '#f0efef'], [0.2, '#c2c0bf'], [0.5, '#7f7c7a'],
                                         [0.8, '#4f4c4a'], [1, CORE_COL]],
                             showscale=False, hoverinfo='skip', xaxis=xa, yaxis=ya))
    core_pts = cores[i] + cores[i][:1]
    fig.add_trace(go.Scatter(x=[p[0] for p in core_pts], y=[p[1] for p in core_pts], mode='lines', fill='toself',
                             fillcolor=CORE_COL, line=dict(color=CORE_COL, width=1, shape='spline', smoothing=1),
                             xaxis=xa, yaxis=ya, showlegend=False, hoverinfo='skip'))
    fig.add_trace(go.Scatter(x=[p[0] for p in gaps[i]], y=[p[1] for p in gaps[i]], mode='markers',
                             marker=dict(symbol='square', size=1.5, color='#ffffff'),
                             xaxis=xa, yaxis=ya, showlegend=False, hoverinfo='skip'))
    fig.add_trace(go.Scatter(x=[p[0] for p in faints[i]], y=[p[1] for p in faints[i]], mode='markers',
                             marker=dict(symbol='square', size=1.5, color='#c9c9c9'),
                             xaxis=xa, yaxis=ya, showlegend=False, hoverinfo='skip'))
    fig.add_trace(go.Scatter(x=[p[0] for p in dots[i]], y=[p[1] for p in dots[i]], mode='markers',
                             marker=dict(symbol='square', size=1.4, color=DOT_COL),
                             xaxis=xa, yaxis=ya, showlegend=False, hoverinfo='skip'))

    axis_common = dict(showgrid=False, zeroline=False, showline=True, linecolor=AX_COL, linewidth=1, mirror=True,
                       automargin=False, ticks='outside', ticklen=5, tickwidth=1, tickcolor=AX_COL,
                       tickfont=dict(family=SANS, size=11, color='#222222'), tickmode='array',
                       minor=dict(ticks='outside', ticklen=3, tickwidth=1, tickcolor=AX_COL, tickmode='array'))
    x_axis = dict(axis_common)
    x_axis['minor'] = dict(axis_common['minor'], tickvals=minor_x)
    layout_axes['xaxis%d' % n] = dict(x_axis, domain=[px_x(left), px_x(right)], range=[2.214, 6.18], anchor=ya,
                                      tickvals=major_x, ticktext=major_x_text, tickangle=0)
    y_axis = dict(axis_common)
    y_axis['minor'] = dict(axis_common['minor'], tickvals=minor_y)
    layout_axes['yaxis%d' % n] = dict(y_axis, domain=[px_y(bottom), px_y(top)], range=[2.02, 6.44], anchor=xa,
                                      tickvals=major_y, ticktext=major_y_text, tickangle=-90)

    shapes.append(dict(type='line', xref=xa, yref=ya, x0=gate_x, x1=gate_x, y0=2.02, y1=6.44,
                       line=dict(color='#2a2a2a', width=1)))
    shapes.append(dict(type='line', xref=xa, yref=ya, x0=2.214, x1=6.18, y0=gate_y, y1=gate_y,
                       line=dict(color='#2a2a2a', width=1)))

    quad = dict(xref='paper', yref='paper', showarrow=False, font=dict(family=SANS, size=10.8, color='#222222'))
    annos.append(dict(quad, x=px_x(left + 1), y=px_y(top + 10), xanchor='left', yanchor='middle',
                      text='Q1-UL(%s%%)' % ul_pct[i]))
    annos.append(dict(quad, x=px_x(right - 2), y=px_y(top + 10), xanchor='right', yanchor='middle',
                      text='Q1-UR(%s%%)' % ur_pct[i]))
    annos.append(dict(quad, x=px_x(left + 1), y=px_y(bottom - 8), xanchor='left', yanchor='middle',
                      text='Q1-LL(%s%%)' % ll_pct[i]))
    annos.append(dict(quad, x=px_x(right - 2), y=px_y(bottom - 8), xanchor='right', yanchor='middle',
                      text='Q1-LR(%s%%)' % lr_pct[i]))
    annos.append(dict(xref='paper', yref='paper', showarrow=False, x=px_x(title_x[i]), y=px_y(top - 20.5),
                      xanchor='center', yanchor='middle', text=panel_titles[i],
                      font=dict(family=SERIF, size=12, color='#111111')))
    annos.append(dict(xref='paper', yref='paper', showarrow=False, x=px_x(left - 31), y=px_y(top + 100),
                      xanchor='center', yanchor='middle', text='PI-A', textangle=-90,
                      font=dict(family=SERIF, size=12, color='#111111')))
    annos.append(dict(xref='paper', yref='paper', showarrow=False, x=px_x((left + right) / 2 + 1), y=px_y(bottom + 28),
                      xanchor='center', yanchor='middle', text='FITC-A',
                      font=dict(family=SANS, size=10.5, color='#222222')))

# bar chart
fig.add_trace(go.Bar(x=doses, y=apoptosis, width=0.55, xaxis='x7', yaxis='y7', showlegend=False,
                     marker=dict(color='#E97A22', line=dict(color='#111111', width=1.5)),
                     error_y=dict(type='data', array=err_up, arrayminus=err_down, symmetric=False,
                                  color='#1a1a1a', thickness=3.5, width=6)))
layout_axes['xaxis7'] = dict(domain=[px_x(240), px_x(638)], type='category', tickson='boundaries', anchor='y7',
                             automargin=False, showgrid=False, zeroline=False, showline=True, linecolor='#111111',
                             linewidth=3, ticks='outside', ticklen=8, tickwidth=3, tickcolor='#111111',
                             ticklabelstandoff=8, tickangle=0,
                             tickfont=dict(family=SERIF, size=28, color='#595959', weight='bold'))
layout_axes['yaxis7'] = dict(domain=[px_y(880), px_y(652)], range=[0, 2], anchor='x7', automargin=False, showgrid=False,
                             zeroline=False, showline=True, linecolor='#111111', linewidth=3, ticks='outside',
                             ticklen=8, tickwidth=3, ticklabelstandoff=16, tickcolor='#111111', tickvals=[0, 1, 2],
                             ticktext=['0.0', '1.0', '2.0'],
                             tickfont=dict(family=SERIF, size=29, color='#595959', weight='bold'))

# wedge
fig.add_trace(go.Scatter(x=wedge_x, y=wedge_y, mode='lines', fill='toself', xaxis='x8', yaxis='y8', showlegend=False,
                         line=dict(color='#33588F', width=2.5),
                         fillgradient=dict(type='vertical', colorscale=[[0, '#E6EEF8'], [1, '#BCD1EB']]),
                         hoverinfo='skip'))
layout_axes['xaxis8'] = dict(domain=[0, 1], range=[0, W], visible=False, anchor='y8', automargin=False)
layout_axes['yaxis8'] = dict(domain=[0, 1], range=[H, 0], visible=False, anchor='x8', automargin=False)

stat_font = dict(family=SERIF, size=21, color='#222222')
for row_y, name, stat in [(631, 'Linear,', 'R<sup>2</sup>=0.05; P=0.19'),
                          (656, 'Quadratic,', 'R<sup>2</sup>=0.17; P=0.10'),
                          (681, 'Cubic,', 'R<sup>2</sup>=0.24; P=0.08')]:
    annos.append(dict(xref='paper', yref='paper', showarrow=False, x=px_x(258), y=px_y(row_y), xanchor='left',
                      yanchor='middle', text=name, font=stat_font))
    annos.append(dict(xref='paper', yref='paper', showarrow=False, x=px_x(349), y=px_y(row_y), xanchor='left',
                      yanchor='middle', text=stat, font=stat_font))
annos.append(dict(xref='paper', yref='paper', showarrow=False, x=px_x(132), y=px_y(766), xanchor='center',
                  yanchor='middle', text='% apoptosis rate', textangle=-90,
                  font=dict(family=SERIF, size=28, color='#222222')))
annos.append(dict(xref='paper', yref='paper', showarrow=False, x=px_x(446), y=px_y(1023), xanchor='center',
                  yanchor='middle', text='<b>LBP concentration (µg/mL）</b>',
                  font=dict(family=SERIF + ', Noto Sans CJK SC', size=33, color='#111111')))

fig.update_layout(width=W, height=H, margin=dict(l=0, r=0, t=0, b=0), paper_bgcolor='white', plot_bgcolor='rgba(0,0,0,0)',
                  showlegend=False, annotations=annos, shapes=shapes, **layout_axes)

# the page's default body margin would push the chart off the 800x1044 window
fig.write_html('out.html', config={'displayModeBar': False}, post_script="document.body.style.margin='0';")
